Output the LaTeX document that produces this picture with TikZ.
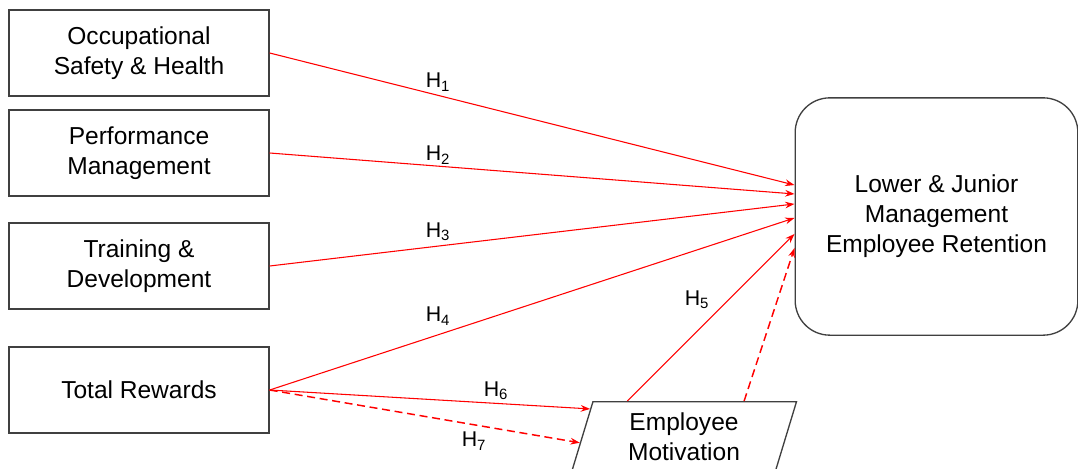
\documentclass[tikz,border=0pt]{standalone}
\usepackage{fontspec}
\setmainfont{Liberation Sans}
\usepackage{xcolor}
\usetikzlibrary{arrows.meta, calc, shapes.geometric}
\definecolor{boxLine}{RGB}{64,64,64}

\begin{document}
\begin{tikzpicture}[x=0.75pt, y=-0.75pt]
		\tikzset{box/.style = {shape=rectangle, draw=boxLine, line width=1pt, minimum width=195pt, minimum height=64.5pt, align=center, font=\fontsize{18.4}{22.6}\selectfont}}
		\tikzset{edge/.style = {draw=red, line width=0.8pt, -{Stealth[length=7pt, width=5pt]}}}
		\tikzset{dashEdge/.style = {edge, line width=1.1pt, dash pattern=on 6pt off 3.5pt}}
		\tikzset{hyp/.style = {font=\fontsize{16}{18}\selectfont, inner sep=1pt}}

		\useasboundingbox (0,0) rectangle (1078,468);
		\clip (0,0) rectangle (1078,468);

		\node[box] (B_1) at (139,53) {Occupational\\Safety \& Health};
		\node[box] (B_2) at (139,153) {Performance\\Management};
		\node[box] (B_3) at (139,266) {Training \&\\Development};
		\node[box] (B_4) at (139,390) {Total Rewards};

		\node[box, rounded corners=26pt, minimum width=212pt, minimum height=178pt] (R) at (936.5,216.5) {Lower \& Junior\\Management\\Employee Retention};
		\node[box, shape=trapezium, trapezium left angle=76, trapezium right angle=104, trapezium stretches=true, minimum width=169pt, minimum height=53pt] (M) at (684,437) {Employee\\Motivation};

		\node[hyp] (H_1) at (438,82) {H\textsubscript{1}};
		\node[hyp] (H_2) at (438,155) {H\textsubscript{2}};
		\node[hyp] (H_3) at (438,232) {H\textsubscript{3}};
		\node[hyp] (H_4) at (438,316) {H\textsubscript{4}};
		\node[hyp] (H_5) at (697,300) {H\textsubscript{5}};
		\node[hyp] (H_6) at (496,391) {H\textsubscript{6}};
		\node[hyp] (H_7) at (474,441) {H\textsubscript{7}};

		\draw[edge] (B_1.east) to ([yshift=23.6pt]R.west);
		\draw[edge] (B_2.east) to ([yshift=16.9pt]R.west);
		\draw[edge] (B_3.east) to ([yshift=9.4pt]R.west);
		\draw[edge] (B_4.east) to ([yshift=-1.1pt]R.west);

		\draw[edge] (B_4.east) to ($(M.top left corner)!0.11!(M.bottom left corner)$);
		\draw[dashEdge] (B_4.east) to ($(M.top left corner)!0.58!(M.bottom left corner)$);

		\draw[edge] ($(M.top left corner)!0.17!(M.top right corner)$) to ([yshift=-13.1pt]R.west);
		\draw[dashEdge] ($(M.top left corner)!0.74!(M.top right corner)$) to ([yshift=-23.6pt]R.west);

	\end{tikzpicture}
\end{document}
